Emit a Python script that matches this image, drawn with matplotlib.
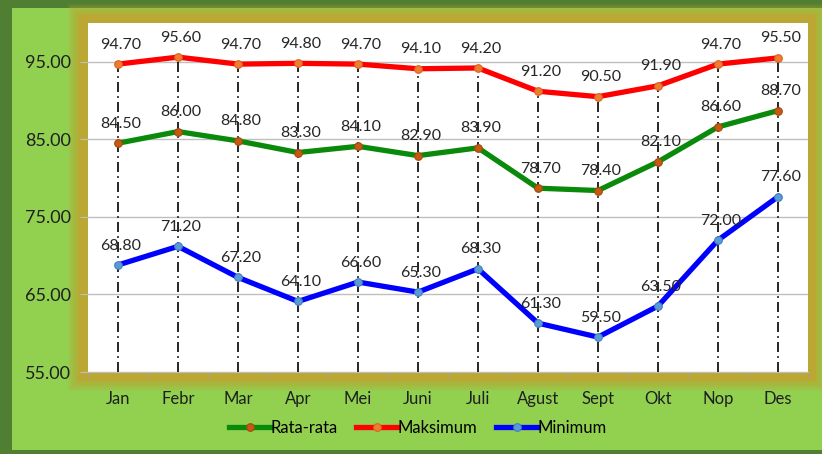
import numpy as np
import matplotlib.pyplot as plt
from matplotlib.patches import Rectangle

plt.rcParams['font.family'] = ['Lato', 'DejaVu Sans']

# data
bulan = ['Jan', 'Febr', 'Mar', 'Apr', 'Mei', 'Juni', 'Juli', 'Agust', 'Sept', 'Okt', 'Nop', 'Des']
rata = [84.5, 86.0, 84.8, 83.3, 84.1, 82.9, 83.9, 78.7, 78.4, 82.1, 86.6, 88.7]
maks = [94.7, 95.6, 94.7, 94.8, 94.7, 94.1, 94.2, 91.2, 90.5, 91.9, 94.7, 95.5]
mini = [68.8, 71.2, 67.2, 64.1, 66.6, 65.3, 68.3, 61.3, 59.5, 63.5, 72.0, 77.6]

W, H = 822, 454
fig = plt.figure(figsize=(W / 100, H / 100), dpi=100, facecolor='#507E32')

def px_rect(x0, y0, x1, y1, **kw):
    # rectangle in pixel coords (top-left origin) -> figure coords
    return Rectangle((x0 / W, 1 - y1 / H), (x1 - x0) / W, (y1 - y0) / H,
                     transform=fig.transFigure, **kw)

# light green chart area
fig.patches.append(px_rect(12, 8, 830, 450, facecolor='#92D050', edgecolor='none', zorder=0))

# gold glow around plot area
gold = '#BBA733'
for k in range(10, 0, -1):
    fig.patches.append(px_rect(78 - k, 14 - k, 816 + k, 381 + k, facecolor=gold,
                               edgecolor='none', alpha=0.1, zorder=1))
fig.patches.append(px_rect(78, 14, 816, 381, facecolor=gold, edgecolor='none', zorder=1))

ax = fig.add_axes([88 / W, 1 - 372 / H, 720 / W, 349 / H])
ax.set_zorder(5)
ax.set_facecolor('white')
x = np.arange(len(bulan))

# drop lines from the highest series to the axis
ax.vlines(x, 55, maks, colors='black', linestyles=(0, (6, 2.5, 1, 2.5)), lw=1.2, zorder=2)

ax.plot(x, rata, color='#0A8A0A', lw=3.8, marker='o', ms=5.5,
        mfc='#C55A11', mec='#A04A10', mew=0.8, label='Rata-rata', zorder=3)
ax.plot(x, maks, color='#FF0000', lw=3.8, marker='o', ms=5.5,
        mfc='#ED7D31', mec='#E06020', mew=0.8, label='Maksimum', zorder=3)
ax.plot(x, mini, color='#0000FF', lw=3.8, marker='o', ms=5.5,
        mfc='#5B9BD5', mec='#4080C0', mew=0.8, label='Minimum', zorder=3)

for series in (rata, maks, mini):
    for xi, v in zip(x, series):
        ax.annotate(f'{v:.2f}', (xi, v), xytext=(2, 14), textcoords='offset points',
                    ha='center', va='center', fontsize=11.5, color='#262626', zorder=4)

ax.set_xlim(-0.5, len(bulan) - 0.5)
ax.set_ylim(55, 100)
ax.set_yticks([55, 65, 75, 85, 95])
ax.set_yticklabels([f'{t:.2f}' for t in [55, 65, 75, 85, 95]])
ax.yaxis.grid(True, color='#BFBFBF', lw=1)
ax.set_axisbelow(True)

ax.set_xticks(x)
ax.set_xticklabels(bulan)
ax.set_xticks(np.arange(-0.5, len(bulan)), minor=True)
ax.tick_params(axis='x', which='major', length=0, pad=14, labelsize=12, labelcolor='#1F1F1F')
ax.tick_params(axis='x', which='minor', length=4, color='#A0A0A0', direction='out')
ax.tick_params(axis='y', length=6, color='#BFBFBF', pad=6, labelsize=13, labelcolor='#1F1F1F')

for s in ('top', 'right', 'left'):
    ax.spines[s].set_visible(False)
ax.spines['bottom'].set_color('#BFBFBF')

fig.legend(loc='center', bbox_to_anchor=(418 / W, 1 - 428 / H), ncol=3, frameon=False,
           fontsize=12, handlelength=2.5, handletextpad=0.0, columnspacing=1.1)

fig.savefig('out.png', dpi=100, facecolor=fig.get_facecolor())
